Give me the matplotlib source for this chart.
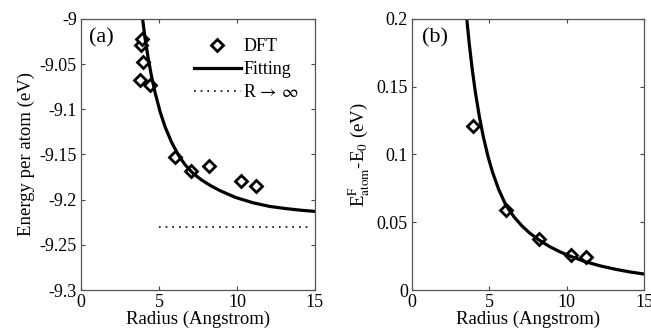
import numpy as np
import matplotlib
matplotlib.use("Agg")
import matplotlib.pyplot as plt
from matplotlib.ticker import FuncFormatter

plt.rcParams['font.family'] = ['Liberation Serif', 'DejaVu Serif']
plt.rcParams['mathtext.fontset'] = 'stix'
plt.rcParams['axes.unicode_minus'] = False

# (a) DFT energies per atom
radius_a = [3.83, 3.93, 3.95, 3.78, 4.42, 6.03, 7.03, 8.22, 10.25, 11.24]
energy_a = [-9.0285, -9.0217, -9.048, -9.0674, -9.0736,
            -9.1528, -9.1688, -9.1625, -9.179, -9.1854]
# (a) fitted curve
fit_r_a = [3.95, 4.1, 4.3, 4.5, 4.75, 5.06, 5.4, 5.81, 6.25, 6.67, 7.2,
           7.74, 8.3, 8.91, 9.9, 11.04, 12.1, 13.19, 14.1, 15.0]
fit_e_a = [-9.0, -9.0205, -9.0425, -9.0615, -9.0815, -9.102, -9.1198,
           -9.1366, -9.1507, -9.1613, -9.1712, -9.1783, -9.1844, -9.190,
           -9.1975, -9.2035, -9.2075, -9.210, -9.2117, -9.213]
e_inf = -9.23
inf_range = [5.0, 14.7]

# (b) formation energies
radius_b = [3.92, 6.08, 8.21, 10.30, 11.25]
energy_b = [0.1208, 0.059, 0.0375, 0.0262, 0.0247]
fit_r_b = [3.54, 3.7, 3.9, 4.1, 4.35, 4.6, 4.9, 5.2, 5.6, 6.08, 6.6, 7.1,
           7.6, 8.21, 8.9, 9.6, 10.3, 11.2, 12.2, 13.2, 14.1, 15.0]
fit_e_b = [0.2, 0.1818, 0.1622, 0.1456, 0.1282, 0.1136, 0.0991, 0.0871,
           0.0743, 0.0623, 0.0539, 0.0474, 0.0421, 0.0369, 0.0320, 0.0280,
           0.0247, 0.0209, 0.0177, 0.0152, 0.0133, 0.0118]

fig = plt.figure(figsize=(6.51, 3.33), dpi=100)
ax1 = fig.add_axes([0.1244, 0.1291, 0.3594, 0.814])
ax2 = fig.add_axes([0.6329, 0.1291, 0.3564, 0.814])

fmt = FuncFormatter(lambda v, p: '%g' % round(v, 4))
mk = dict(marker='D', mfc='white', mec='black', mew=2.0, ms=6.5, ls='none')

ax1.plot(radius_a, energy_a, label='DFT', **mk)
ax1.plot(fit_r_a, fit_e_a, color='black', lw=2.3, label='Fitting')
ax1.plot(inf_range, [e_inf, e_inf], color='black', lw=1.2,
         ls=(0, (1, 3)), label=r'R$\,\rightarrow\,\infty$')
ax1.set_xlim(0, 15)
ax1.set_ylim(-9.3, -9.0)
ax1.set_xticks([0, 5, 10, 15])
ax1.set_yticks(np.arange(-9.3, -8.99, 0.05))
ax1.yaxis.set_major_formatter(fmt)
ax1.set_xlabel('Radius (Angstrom)', fontsize=13.5, labelpad=0)
ax1.set_ylabel('Energy per atom (eV)', fontsize=13.5, labelpad=3)
ax1.text(0.035, 0.965, '(a)', transform=ax1.transAxes, fontsize=16,
         va='top', ha='left')
ax1.legend(loc='upper right', frameon=False, fontsize=13, handlelength=2.6,
           handletextpad=0.15, labelspacing=0.33, borderaxespad=0.3,
           bbox_to_anchor=(0.985, 0.975))

ax2.plot(radius_b, energy_b, **mk)
ax2.plot(fit_r_b, fit_e_b, color='black', lw=2.3)
ax2.set_xlim(0, 15)
ax2.set_ylim(0, 0.2)
ax2.set_xticks([0, 5, 10, 15])
ax2.set_yticks([0, 0.05, 0.1, 0.15, 0.2])
ax2.yaxis.set_major_formatter(fmt)
ax2.set_xlabel('Radius (Angstrom)', fontsize=13.5, labelpad=0)
ax2.set_ylabel(r'E$^{\mathrm{F}}_{\mathrm{atom}}$-E$_{\mathrm{0}}$ (eV)',
               fontsize=13.5, labelpad=3)
ax2.text(0.045, 0.965, '(b)', transform=ax2.transAxes, fontsize=16,
         va='top', ha='left')

for ax in (ax1, ax2):
    ax.tick_params(direction='in', top=True, right=True, length=3,
                   width=0.8, labelsize=13, pad=3, color='#444444')
    for s in ax.spines.values():
        s.set_color('#555555')
        s.set_linewidth(0.9)

fig.savefig('out.png', dpi=100)
